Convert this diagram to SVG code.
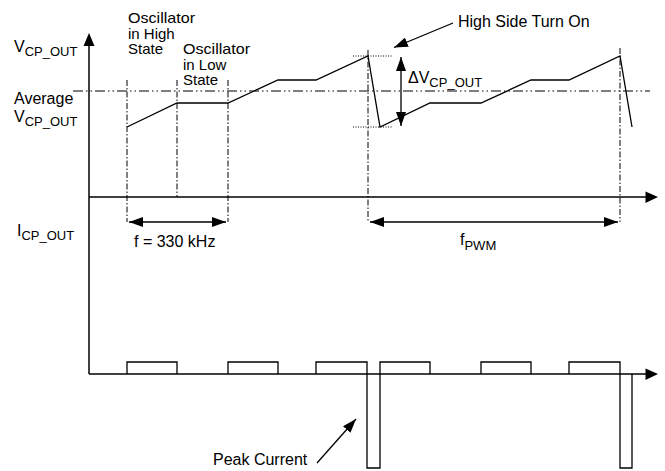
<svg xmlns="http://www.w3.org/2000/svg" width="665" height="471" viewBox="0 0 665 471">
<style>
text{font-family:"Liberation Sans",Arial,sans-serif;font-size:16px;fill:#000}
.sub{font-size:13px}
.osc{font-size:15px}
.ln{fill:none;stroke:#000;stroke-width:1.3}
.ax{fill:none;stroke:#000;stroke-width:1.5}
.dd{fill:none;stroke:#000;stroke-width:1;stroke-dasharray:6 2 1.5 2}
.avg{fill:none;stroke:#000;stroke-width:1;stroke-dasharray:10 3 1.5 3 1.5 3}
.dot{fill:none;stroke:#000;stroke-width:1;stroke-dasharray:1 1.5}
.ah{fill:#000;stroke:none}
</style>
<defs>
<marker id="arr" viewBox="0 0 14 10" refX="14" refY="5" markerWidth="14" markerHeight="10" markerUnits="userSpaceOnUse" orient="auto-start-reverse">
<path d="M0,0 L14,5 L0,10 Z" fill="#000"/>
</marker>
</defs>
<g id="axes">
<line class="ax" x1="89" y1="44" x2="89" y2="374"/>
<polygon class="ah" points="89,33 83.5,46 94.5,46"/>
<line class="ax" x1="89" y1="197" x2="648" y2="197"/>
<polygon class="ah" points="658,197 645.5,191.5 645.5,203"/>
<line class="ax" x1="89" y1="374" x2="648" y2="374"/>
<polygon class="ah" points="658,374 645.5,368.5 645.5,380"/>
</g>
<g id="guides">
<line class="avg" x1="73" y1="91" x2="650" y2="91"/>
<line class="dd" x1="127" y1="80" x2="127" y2="222"/>
<line class="dd" x1="177" y1="80" x2="177" y2="197"/>
<line class="dd" x1="228" y1="80" x2="228" y2="222"/>
<line class="dd" x1="368" y1="50" x2="368" y2="222"/>
<line class="dd" x1="620" y1="48" x2="620" y2="222"/>
<line class="dot" x1="353" y1="56" x2="393" y2="56"/>
<line class="dot" x1="353" y1="127" x2="393" y2="127"/>
</g>
<g id="vcp-waveform">
<polyline class="ln" points="127,127 177,103 228,103 278,80 316,80 368,56 380,127 430,103 481,103 531,80 569,80 620,56 632,127"/>
</g>
<g id="icp-waveform">
<polyline class="ln" points="127,374 127,362 177,362 177,374"/>
<polyline class="ln" points="228,374 228,362 278,362 278,374"/>
<polyline class="ln" points="316,374 316,362 367,362 367,468 380,468 380,362 430,362 430,374"/>
<polyline class="ln" points="481,374 481,362 531,362 531,374"/>
<polyline class="ln" points="569,374 569,362 620,362 620,468 632,468 632,374"/>
</g>
<g id="connectors">
<line class="ln" x1="129" y1="222" x2="226" y2="222" marker-start="url(#arr)" marker-end="url(#arr)"/>
<line class="ln" x1="370" y1="222" x2="618" y2="222" marker-start="url(#arr)" marker-end="url(#arr)"/>
<line class="ln" x1="401" y1="57" x2="401" y2="126" marker-start="url(#arr)" marker-end="url(#arr)"/>
<line class="ln" x1="453" y1="23" x2="394" y2="47.5" marker-end="url(#arr)"/>
<line class="ln" x1="317" y1="463" x2="356" y2="419" marker-end="url(#arr)"/>
</g>
<g id="labels">
<text x="14" y="52">V<tspan class="sub" dy="4">CP_OUT</tspan></text>
<text x="14" y="104">Average</text>
<text x="14" y="122">V<tspan class="sub" dy="4">CP_OUT</tspan></text>
<text x="17" y="236">I<tspan class="sub" dy="4">CP_OUT</tspan></text>
<text class="osc" x="128" y="23" textLength="67" lengthAdjust="spacingAndGlyphs">Oscillator</text>
<text class="osc" x="128" y="38.5">in High</text>
<text class="osc" x="128" y="54">State</text>
<text class="osc" x="183" y="54" textLength="67" lengthAdjust="spacingAndGlyphs">Oscillator</text>
<text class="osc" x="183" y="69.5">in Low</text>
<text class="osc" x="183" y="85">State</text>
<text x="458" y="27">High Side Turn On</text>
<text x="408" y="83">ΔV<tspan class="sub" dy="4">CP_OUT</tspan></text>
<text x="134" y="247">f = 330 kHz</text>
<text x="460" y="245">f<tspan class="sub" dy="5">PWM</tspan></text>
<text x="213" y="465">Peak Current</text>
</g>
</svg>
